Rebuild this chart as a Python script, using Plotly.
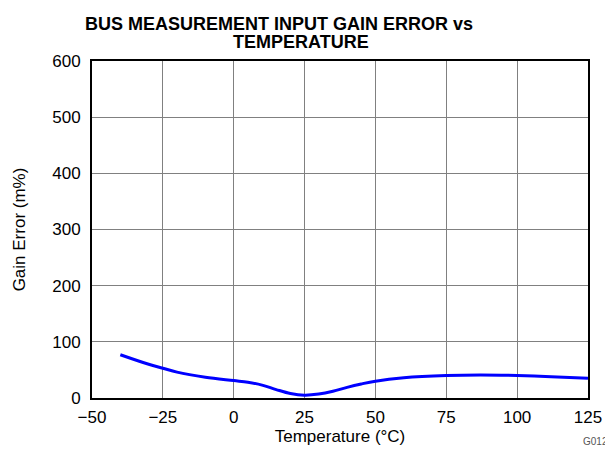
import plotly.graph_objects as go

temp_c = [-40, -30, -25, -20, -10, 0, 5, 10, 15, 20, 25, 30, 35, 40, 45, 50, 60, 75, 87, 100, 112, 125]
gain_err = [77, 60, 53, 46, 37, 31, 28, 23, 15, 8, 5, 7, 12, 19, 25, 30, 36, 40, 41, 40, 38, 35]

x_ticks = [-50, -25, 0, 25, 50, 75, 100, 125]
x_labels = ["\u221250", "\u221225", "0", "25", "50", "75", "100", "125"]
y_ticks = [0, 100, 200, 300, 400, 500, 600]

fig = go.Figure()
fig.add_trace(go.Scatter(x=temp_c, y=gain_err, mode="lines",
                         line=dict(color="#0000FF", width=3, shape="spline", smoothing=1.0),
                         showlegend=False))

font = "Liberation Sans, Arial, sans-serif"
# page body has an 8px margin, so the figure is 605x441 placed at (8,8)
W, H = 605, 441
L, R, T, B = 84, 25, 53, 51
fig.update_layout(
    width=W, height=H,
    margin=dict(l=L, r=R, t=T, b=B, autoexpand=False),
    paper_bgcolor="white", plot_bgcolor="white",
    font=dict(family=font, color="black", size=17),
    xaxis=dict(range=[-50, 125], tickvals=x_ticks, ticktext=x_labels,
               showgrid=True, gridcolor="#808080", gridwidth=1,
               showline=True, linecolor="black", linewidth=2, mirror=True,
               ticks="", zeroline=False, automargin=False, ticklabelstandoff=3,
               title=dict(text="Temperature (\u00b0C)", font=dict(size=17), standoff=4),
               tickfont=dict(size=17)),
    yaxis=dict(range=[0, 600], tickvals=y_ticks,
               showgrid=True, gridcolor="#808080", gridwidth=1,
               showline=True, linecolor="black", linewidth=2, mirror=True,
               ticks="", zeroline=False, automargin=False, ticklabelstandoff=6,
               title=dict(text="Gain Error (m%)", font=dict(size=17), standoff=22),
               tickfont=dict(size=17)),
)
pw = W - L - R
ph = H - T - B
def px(x):
    return (x - 8 - L) / pw
def py(y):
    return (H - B - (y - 8)) / ph

fig.add_annotation(text="<b>BUS MEASUREMENT INPUT GAIN ERROR vs</b>", xref="paper", yref="paper",
                   x=px(279), y=py(24), xanchor="center", yanchor="middle", showarrow=False,
                   font=dict(size=18, family=font))
fig.add_annotation(text="<b>TEMPERATURE</b>", xref="paper", yref="paper",
                   x=px(301), y=py(42), xanchor="center", yanchor="middle", showarrow=False,
                   font=dict(size=18, family=font))
fig.add_annotation(text="G012", xref="paper", yref="paper", x=px(610), y=py(441),
                   xanchor="right", yanchor="middle", showarrow=False,
                   font=dict(size=10, color="#555555", family=font))
fig.write_html("out.html")
